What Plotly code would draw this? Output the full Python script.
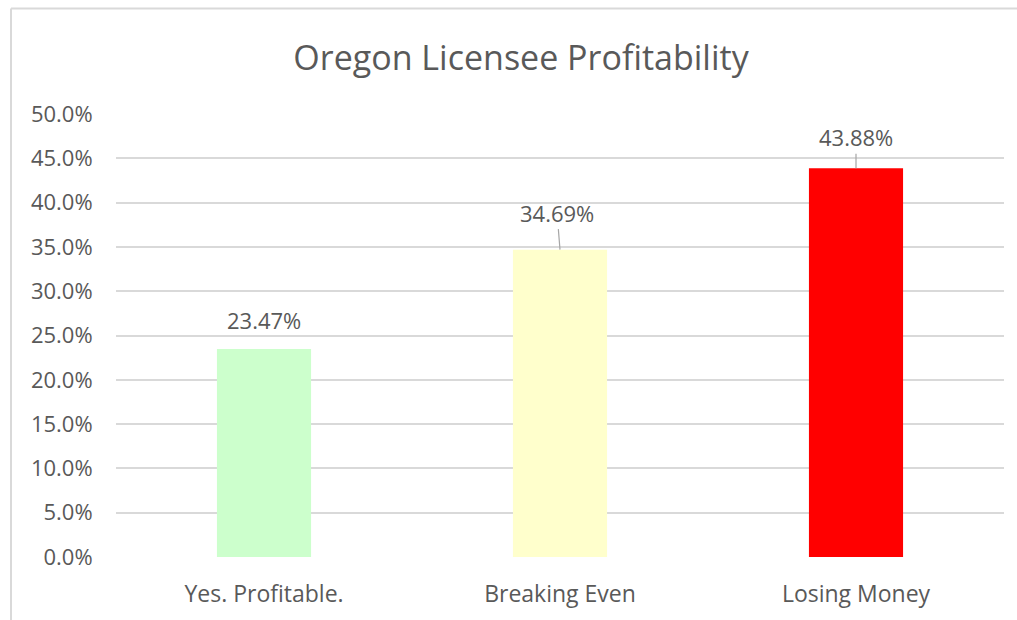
import plotly.graph_objects as go

categories = ["Yes. Profitable.", "Breaking Even", "Losing Money"]
values = [23.47, 34.69, 43.88]
colors = ["#ccffcc", "#ffffcc", "#ff0000"]
tick_vals = [0, 5, 10, 15, 20, 25, 30, 35, 40, 45, 50]
tick_text = [f"{v:.1f}%" for v in tick_vals]

FONT = "Open Sans"
GRAY = "#595959"

fig = go.Figure(go.Bar(
    x=categories, y=values, marker=dict(color=colors, line=dict(width=0)),
    width=0.318, hoverinfo="skip",
))

# data labels
label_specs = [(0, 0, 0), (1, -3, -37), (2, 0, -31)]
for i, ax, ay in label_specs:
    txt = f"{values[i]:.2f}%"
    if ay == 0:
        fig.add_annotation(x=categories[i], y=values[i], text=txt, showarrow=False,
                           yshift=29, font=dict(family=FONT, size=22, color=GRAY))
    else:
        fig.add_annotation(x=categories[i], y=values[i], text=txt, showarrow=True,
                           arrowhead=0, arrowwidth=1.2, arrowcolor="#a6a6a6",
                           ax=ax, ay=ay, standoff=0, borderpad=1,
                           font=dict(family=FONT, size=22, color=GRAY))

# chart border (top and left only visible)
fig.add_shape(type="line", xref="paper", yref="paper",
              x0=(11 - 116) / 888, x1=1.02, y0=(557 - 8.5) / 443, y1=(557 - 8.5) / 443,
              line=dict(color="#d9d9d9", width=2))
fig.add_shape(type="line", xref="paper", yref="paper",
              x0=(11 - 116) / 888, x1=(11 - 116) / 888, y0=(557 - 8.5) / 443, y1=-0.2,
              line=dict(color="#d9d9d9", width=2))

fig.update_layout(
    width=1017, height=620,
    margin=dict(l=116, r=13, t=114, b=63, autoexpand=False),
    paper_bgcolor="white", plot_bgcolor="white",
    title=dict(text="Oregon Licensee Profitability", x=521 / 1017, xanchor="center",
               y=1 - 58 / 620, yanchor="middle",
               font=dict(family=FONT, size=34, color=GRAY)),
    showlegend=False,
    bargap=0.68,
    xaxis=dict(showgrid=False, showline=False, ticks="outside", ticklen=16, tickcolor="white",
               automargin=False, tickfont=dict(family=FONT, size=23, color=GRAY)),
    yaxis=dict(range=[0, 50], tickvals=tick_vals, ticktext=tick_text, showgrid=True,
               gridcolor="#d9d9d9", gridwidth=1.5, zeroline=False, showline=False,
               ticks="outside", ticklen=18, tickcolor="white", automargin=False,
               tickfont=dict(family=FONT, size=22, color=GRAY)),
)

fig.write_html("out.html", config={"displayModeBar": False},
               post_script="document.body.style.margin='0';")
